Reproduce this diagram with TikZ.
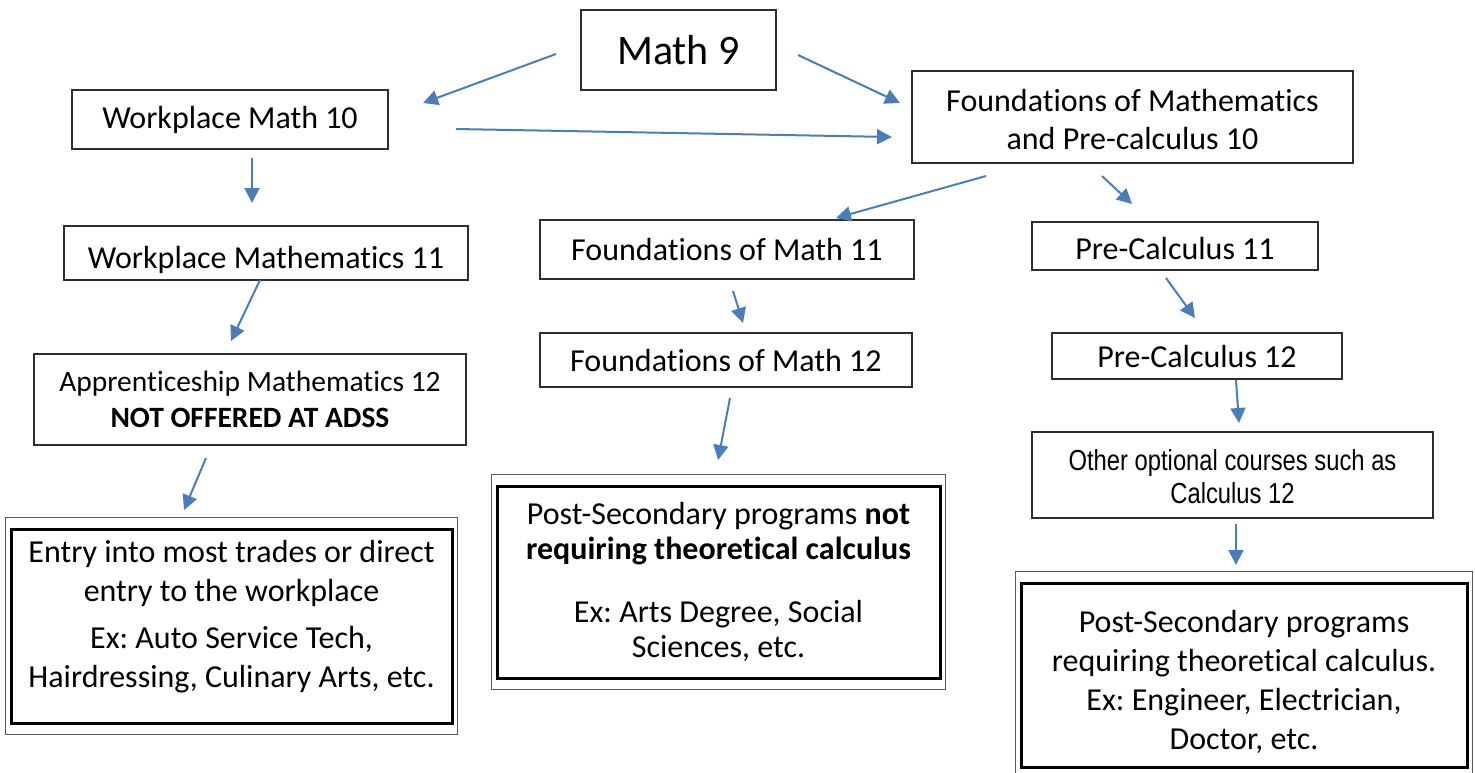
\documentclass[tikz,border=0pt]{standalone}
\usepackage{fontspec}
\setmainfont{Carlito}[Ligatures=NoCommon]
\newfontfamily\narrowfont[FakeStretch=0.82]{Liberation Sans}
\usetikzlibrary{arrows.meta,fit}
\definecolor{flowblue}{RGB}{74,126,187}
\definecolor{boxline}{RGB}{45,45,45}
\frenchspacing
\tikzset{
  course/.style={draw=boxline, line width=1.3pt, inner sep=0pt, align=center, font={\fontsize{32}{38}\selectfont}},
  goal/.style={draw=black, line width=3pt, inner sep=0pt, align=center, font={\fontsize{32}{39}\selectfont}},
  goalframe/.style={draw=gray!70!black, line width=1pt, inner xsep=4pt, inner ysep=10pt},
  flow/.style={draw=flowblue, line width=2pt, -{Triangle[length=15pt,width=15pt]}}
}
\begin{document}
\begin{tikzpicture}[x=1pt,y=-1pt]
\clip (0,0) rectangle (1475,772);

\node [course, minimum width=195, minimum height=80, font={\fontsize{42}{50}\selectfont}] (math9) at (678.5,50) {Math 9};
\node [course, minimum width=316, minimum height=59] (wm10) at (230,119.5) {Workplace Math 10};
\node [course, minimum width=441, minimum height=92] (fpc10) at (1132.5,117) {\rule{0pt}{28pt}Foundations of Mathematics\\and Pre-calculus 10};

\node [course, minimum width=404, minimum height=54] (wm11) at (266,253) {\rule{0pt}{36pt}Workplace Mathematics 11};
\node [course, minimum width=374, minimum height=59] (fm11) at (727,249.5) {Foundations of Math 11};
\node [course, minimum width=286, minimum height=48] (pc11) at (1175,246) {\rule{0pt}{27pt}Pre-Calculus 11};

\node [course, minimum width=432, minimum height=91, font={\fontsize{29.5}{36}\selectfont}] (am12) at (250,399.5) {Apprenticeship Mathematics 12\\\textbf{NOT OFFERED AT ADSS}};
\node [course, minimum width=372, minimum height=54] (fm12) at (726,360) {Foundations of Math 12};
\node [course, minimum width=290, minimum height=46] (pc12) at (1197,356) {Pre-Calculus 12};
\node [course, minimum width=401, minimum height=86, font={\narrowfont\fontsize{29}{33}\selectfont}] (calc12) at (1232.5,475) {\rule{0pt}{24pt}Other optional courses such as\\Calculus 12};

\node [goal, minimum width=441, minimum height=194] (trades) at (231.5,626) {Entry into most trades or direct\\entry to the workplace\\[8pt]Ex: Auto Service Tech,\\Hairdressing, Culinary Arts, etc.\rule[-24pt]{0pt}{0pt}};
\node [goal, minimum width=443, minimum height=192, font={\fontsize{32}{35}\selectfont}] (noncalc) at (718.5,582) {Post-Secondary programs \textbf{not}\\\textbf{requiring theoretical calculus}\\[28pt]Ex: Arts Degree, Social\\Sciences, etc.};
\node [goal, minimum width=446, minimum height=184] (withcalc) at (1244,675) {\rule{0pt}{36pt}Post-Secondary programs\\requiring theoretical calculus.\\Ex: Engineer, Electrician,\\Doctor, etc.};
\node [goalframe, fit=(trades)] (tradesframe) {};
\node [goalframe, fit=(noncalc)] (noncalcframe) {};
\node [goalframe, fit=(withcalc)] (withcalcframe) {};

\coordinate (s1) at (556,54);    \coordinate (t1) at (423,103);
\coordinate (s2) at (798,55);    \coordinate (t2) at (900,103);
\coordinate (s3) at (456,129);   \coordinate (t3) at (892,137);
\coordinate (s4) at (252,158);   \coordinate (t4) at (252,203);
\coordinate (s5) at (986,176);   \coordinate (t5) at (836,218);
\coordinate (s6) at (1102,176);  \coordinate (t6) at (1132,204);
\coordinate (s7) at (260,280);   \coordinate (t7) at (231,341);
\coordinate (s8) at (733,291);   \coordinate (t8) at (743,323);
\coordinate (s9) at (1166,278);  \coordinate (t9) at (1195,318);
\coordinate (s10) at (1236,380); \coordinate (t10) at (1239,423);
\coordinate (s11) at (730,398);  \coordinate (t11) at (718,460);
\coordinate (s12) at (206,458);  \coordinate (t12) at (184,510);
\coordinate (s13) at (1236,524); \coordinate (t13) at (1236,565);
\foreach \n in {1,...,13} \draw [flow] (s\n) -- (t\n);

\end{tikzpicture}
\end{document}
